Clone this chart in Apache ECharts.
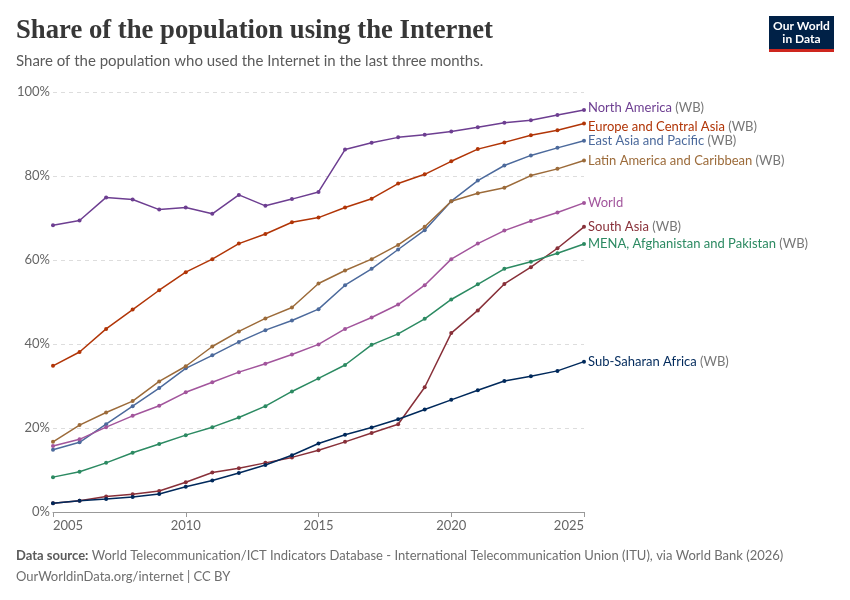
<!DOCTYPE html>
<html><head><meta charset="utf-8">
<script src="https://cdn.jsdelivr.net/npm/echarts@6/dist/echarts.min.js"></script>
<style>html,body{margin:0;padding:0;background:#fff}#c{width:850px;height:600px}</style>
</head><body><div id="c"></div>
<script>
const years = [2005,2006,2007,2008,2009,2010,2011,2012,2013,2014,2015,2016,2017,2018,2019,2020,2021,2022,2023,2024,2025];
const northAmerica = [68.3,69.4,74.9,74.4,72.0,72.5,71.0,75.5,72.9,74.5,76.2,86.3,87.9,89.2,89.8,90.6,91.6,92.7,93.3,94.5,95.7];
const europeCentralAsia = [34.8,38.1,43.6,48.2,52.8,57.1,60.2,63.9,66.2,69.0,70.1,72.5,74.6,78.2,80.4,83.5,86.4,88.0,89.7,90.9,92.5];
const eastAsiaPacific = [14.8,16.6,20.9,25.2,29.5,34.2,37.3,40.5,43.3,45.6,48.3,54.0,57.9,62.5,67.1,74.0,78.9,82.5,84.9,86.7,88.4];
const latinAmerica = [16.7,20.7,23.7,26.4,31.1,34.7,39.4,43.0,46.1,48.7,54.4,57.5,60.2,63.6,67.9,74.0,75.9,77.2,80.1,81.7,83.7];
const world = [15.7,17.3,20.2,22.9,25.3,28.5,30.9,33.3,35.3,37.5,39.9,43.6,46.3,49.4,54.0,60.2,63.9,67.0,69.3,71.3,73.6];
const southAsia = [2.1,2.7,3.7,4.2,5.0,7.1,9.4,10.4,11.7,13.0,14.7,16.7,18.8,20.9,29.7,42.6,48.0,54.3,58.3,62.8,67.9];
const mena = [8.3,9.6,11.7,14.1,16.2,18.3,20.2,22.5,25.2,28.7,31.8,35.0,39.8,42.4,46.0,50.6,54.2,57.9,59.6,61.6,63.8];
const subSaharanAfrica = [2.1,2.7,3.1,3.6,4.3,6.0,7.5,9.3,11.2,13.5,16.3,18.4,20.1,22.1,24.4,26.7,29.0,31.2,32.3,33.6,35.8];
const yTicks = [0,20,40,60,80,100];
const xTicks = [2005,2010,2015,2020,2025];

const seriesDefs = [
  {name:'North America', suffix:' (WB)', data:northAmerica, color:'#6D3E91', off:-2},
  {name:'Europe and Central Asia', suffix:' (WB)', data:europeCentralAsia, color:'#B13507', off:3},
  {name:'East Asia and Pacific', suffix:' (WB)', data:eastAsiaPacific, color:'#4C6A9C', off:0},
  {name:'Latin America and Caribbean', suffix:' (WB)', data:latinAmerica, color:'#9C6B3A', off:0},
  {name:'World', suffix:'', data:world, color:'#A2559C', off:0},
  {name:'South Asia', suffix:' (WB)', data:southAsia, color:'#883039', off:0},
  {name:'MENA, Afghanistan and Pakistan', suffix:' (WB)', data:mena, color:'#2C8A62', off:0},
  {name:'Sub-Saharan Africa', suffix:' (WB)', data:subSaharanAfrica, color:'#00295B', off:0}
];

const FONT = 'Lato, "Noto Sans", sans-serif';
const chart = echarts.init(document.getElementById('c'), null, {renderer:'canvas'});
chart.setOption({
  animation:false,
  backgroundColor:'#fff',
  textStyle:{fontFamily:FONT},
  title:[
    {text:'Share of the population using the Internet', left:16, top:18, padding:0,
     textStyle:{fontFamily:'"Liberation Serif", "DejaVu Serif", serif', fontWeight:'bold', fontSize:26.7, color:'#373737'}},
    {text:'Share of the population who used the Internet in the last three months.', left:16, top:54, padding:0,
     textStyle:{fontFamily:FONT, fontWeight:'normal', fontSize:15, color:'#5b5b5b'}},
    {text:'{b|Data source:} {r|World Telecommunication/ICT Indicators Database - International Telecommunication Union (ITU), via World Bank (2026)}', left:16, top:549, padding:0,
     textStyle:{fontFamily:FONT, fontWeight:'normal', fontSize:13, color:'#6e6e6e',
       rich:{b:{fontFamily:FONT, fontWeight:'bold', fontSize:13, color:'#5b5b5b'},
             r:{fontFamily:FONT, fontWeight:'normal', fontSize:13, color:'#6e6e6e'}}}},
    {text:'OurWorldinData.org/internet | CC BY', left:16, top:570, padding:0,
     textStyle:{fontFamily:FONT, fontWeight:'normal', fontSize:13, color:'#6e6e6e'}}
  ],
  graphic:[
    {type:'rect', shape:{x:769,y:16,width:65,height:34}, style:{fill:'#002147'}},
    {type:'rect', shape:{x:769,y:49,width:65,height:3}, style:{fill:'#CE261E'}},
    {type:'text', x:801.5, y:20, style:{text:'Our World\nin Data', fill:'#fff', font:'bold 12px Lato, sans-serif', align:'center', lineHeight:13}}
  ],
  grid:{left:53, right:266, top:92, bottom:88, containLabel:false},
  xAxis:{type:'value', min:xTicks[0], max:xTicks[xTicks.length-1], interval:5,
    axisLine:{show:true, lineStyle:{color:'#999', width:1}},
    axisTick:{show:true, length:5, lineStyle:{color:'#999'}},
    splitLine:{show:false},
    axisLabel:{color:'#666', fontSize:13, fontFamily:FONT, margin:7, alignMinLabel:'left', alignMaxLabel:'right',
      formatter:v=>String(v)}},
  yAxis:{type:'value', min:yTicks[0], max:yTicks[yTicks.length-1], interval:20,
    axisLine:{show:false}, axisTick:{show:false},
    splitLine:{show:true, lineStyle:{color:'#ddd', type:[4,4], width:1}},
    axisLabel:{color:'#666', fontSize:13, fontFamily:FONT, margin:3, formatter:v=>v+'%'}},
  series: seriesDefs.map(s=>({
    name:s.name, type:'line',
    data: years.map((y,i)=>[y, s.data[i]]),
    symbol:'circle', symbolSize:4, showSymbol:true,
    lineStyle:{color:s.color, width:1.5},
    itemStyle:{color:s.color},
    emphasis:{disabled:true},
    endLabel:{show:true, distance:4, offset:[0,s.off],
      formatter:()=>'{n|'+s.name+'}'+(s.suffix?'{s|'+s.suffix+'}':''),
      rich:{n:{color:s.color, fontSize:13, fontFamily:FONT},
            s:{color:'#777', fontSize:13, fontFamily:FONT}}}
  }))
});
</script>
</body></html>
